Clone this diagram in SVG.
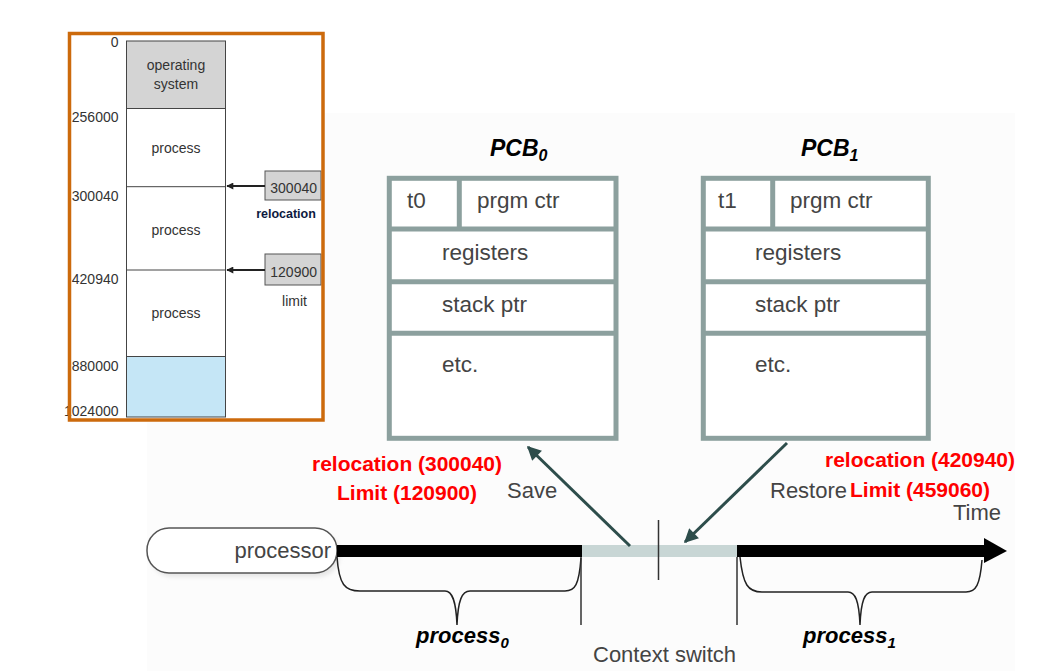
<svg xmlns="http://www.w3.org/2000/svg" width="1058" height="671" viewBox="0 0 1058 671">
<style>
.mem{font-family:"Liberation Sans",Arial,sans-serif;font-size:14px;fill:#333}
.g{font-family:"Liberation Sans",Arial,sans-serif;font-size:22px;fill:#444}
.pc{font-family:"Liberation Sans",Arial,sans-serif;font-size:22.5px;fill:#444}
.red{font-family:"Liberation Sans",Arial,sans-serif;font-size:21px;font-weight:bold;fill:#ff0000}
.bi{font-family:"Liberation Sans",Arial,sans-serif;font-weight:bold;font-style:italic;fill:#000}
.cell{fill:#fff;stroke:#8ca09e;stroke-width:5}
.div{stroke:#8ca09e;stroke-width:5}
.brace{fill:none;stroke:#222;stroke-width:1.5}
.tick{stroke:#333;stroke-width:1.5}
</style>
<defs>
<marker id="ah" viewBox="0 0 10 10" refX="9" refY="5" markerWidth="16" markerHeight="14" markerUnits="userSpaceOnUse" orient="auto">
<path d="M0,0 L10,5 L0,10 z" fill="#2d4d4b"/>
</marker>
<marker id="ak" viewBox="0 0 10 10" refX="9" refY="5" markerWidth="9" markerHeight="7" markerUnits="userSpaceOnUse" orient="auto">
<path d="M0,0 L10,5 L0,10 z" fill="#222"/>
</marker>
<filter id="sh" x="-10%" y="-20%" width="120%" height="160%"><feGaussianBlur stdDeviation="2"/></filter>
</defs>
<rect width="1058" height="671" fill="#fff"/>
<rect x="147" y="113" width="868" height="558" fill="#fcfcfc"/>

<g id="memory">
<rect x="69.5" y="33.5" width="253.5" height="386.5" fill="#fff"/>
<rect x="126.5" y="41" width="99" height="67.5" fill="#d4d4d4" stroke="#444" stroke-width="1"/>
<rect x="126.5" y="108.5" width="99" height="248" fill="#fff" stroke="#444" stroke-width="1"/>
<line x1="126.5" y1="186.7" x2="225.5" y2="186.7" stroke="#444" stroke-width="1"/>
<line x1="126.5" y1="270" x2="225.5" y2="270" stroke="#444" stroke-width="1"/>
<rect x="126.5" y="356.5" width="99" height="60.5" fill="#c5e6f6" stroke="#444" stroke-width="1"/>
<text class="mem" x="176" y="70" text-anchor="middle">operating</text>
<text class="mem" x="176" y="89" text-anchor="middle">system</text>
<text class="mem" x="176" y="153" text-anchor="middle">process</text>
<text class="mem" x="176" y="235" text-anchor="middle">process</text>
<text class="mem" x="176" y="318" text-anchor="middle">process</text>
<text class="mem" x="118.5" y="47" text-anchor="end">0</text>
<text class="mem" x="118.5" y="122" text-anchor="end">256000</text>
<text class="mem" x="118.5" y="201" text-anchor="end">300040</text>
<text class="mem" x="118.5" y="284" text-anchor="end">420940</text>
<text class="mem" x="118.5" y="371" text-anchor="end">880000</text>
<text class="mem" x="118.5" y="416" text-anchor="end">1024000</text>
<rect x="265" y="171" width="56" height="29" fill="#d4d4d4" stroke="#555" stroke-width="1"/>
<text class="mem" x="317" y="193" text-anchor="end">300040</text>
<rect x="265" y="254" width="56" height="31" fill="#d4d4d4" stroke="#555" stroke-width="1"/>
<text class="mem" x="317" y="277" text-anchor="end">120900</text>
<line x1="265" y1="186" x2="227" y2="186" stroke="#222" stroke-width="2" marker-end="url(#ak)"/>
<line x1="265" y1="270" x2="227" y2="270" stroke="#222" stroke-width="2" marker-end="url(#ak)"/>
<text x="286" y="218" text-anchor="middle" font-family="'Liberation Sans',Arial,sans-serif" font-size="12.5" font-weight="bold" fill="#0d1a40">relocation</text>
<text class="mem" x="294.5" y="306" text-anchor="middle">limit</text>
<rect x="69.5" y="33.5" width="253.5" height="386.5" fill="none" stroke="#cc6a0c" stroke-width="3.5"/>
</g>

<g id="pcb0">
<text class="bi" x="490" y="156" font-size="23">PCB<tspan font-size="16" dy="5">0</tspan></text>
<rect class="cell" x="389.3" y="178.3" width="226.7" height="260"/>
<line class="div" x1="389" y1="229" x2="616" y2="229"/>
<line class="div" x1="389" y1="281.7" x2="616" y2="281.7"/>
<line class="div" x1="389" y1="333.3" x2="616" y2="333.3"/>
<line class="div" x1="459.3" y1="178" x2="459.3" y2="229"/>
<text class="pc" x="407" y="207.5">t0</text>
<text class="pc" x="477" y="207.5">prgm ctr</text>
<text class="pc" x="442" y="259.5">registers</text>
<text class="pc" x="442" y="311.5">stack ptr</text>
<text class="pc" x="442" y="371.5">etc.</text>
</g>

<g id="pcb1">
<text class="bi" x="801" y="156" font-size="23">PCB<tspan font-size="16" dy="5">1</tspan></text>
<rect class="cell" x="703.3" y="178.3" width="225" height="260"/>
<line class="div" x1="703" y1="229" x2="928" y2="229"/>
<line class="div" x1="703" y1="281.7" x2="928" y2="281.7"/>
<line class="div" x1="703" y1="333.3" x2="928" y2="333.3"/>
<line class="div" x1="772.7" y1="178" x2="772.7" y2="229"/>
<text class="pc" x="718" y="207.5">t1</text>
<text class="pc" x="790" y="207.5">prgm ctr</text>
<text class="pc" x="755" y="259.5">registers</text>
<text class="pc" x="755" y="311.5">stack ptr</text>
<text class="pc" x="755" y="371.5">etc.</text>
</g>

<g id="processor">
<rect x="150" y="532" width="190" height="45" rx="22" fill="#e6e6e6" filter="url(#sh)"/>
<rect x="147" y="528" width="190" height="45" rx="22" fill="#fff" stroke="#555" stroke-width="1.5"/>
<text class="g" x="331" y="558" text-anchor="end">processor</text>
</g>

<g id="timeline">
<rect x="337" y="545" width="245" height="12" fill="#000"/>
<rect x="582" y="545" width="155" height="12" fill="#c8d6d5"/>
<rect x="737" y="545" width="250" height="12" fill="#000"/>
<polygon points="984,538 1007,551 984,563" fill="#000"/>
<line class="tick" x1="658.5" y1="520" x2="658.5" y2="580" stroke-width="2"/>
</g>

<g id="connectors">
<line x1="630" y1="546" x2="528" y2="447" stroke="#2d4d4b" stroke-width="3" marker-end="url(#ah)"/>
<line x1="787" y1="443" x2="685" y2="542" stroke="#2d4d4b" stroke-width="3" marker-end="url(#ah)"/>
</g>

<g id="brace0">
<path class="brace" d="M337,557 C339,585 345,591 360,591 L445,591 C452,591 456,600 457,625 C458,600 462,591 470,591 L565,591 C575,591 579,585 581,558"/>
<line class="tick" x1="581" y1="557" x2="581" y2="625"/>
<text class="bi" x="416" y="643" font-size="22">process<tspan font-size="15" dy="5">0</tspan></text>
</g>

<g id="brace1">
<path class="brace" d="M740,557 C743,585 748,592 762,592 L848,592 C855,592 859,600 860,625 C861,600 865,592 872,592 L966,592 C976,592 980,585 982,560"/>
<line class="tick" x1="737" y1="557" x2="737" y2="625"/>
<text class="bi" x="803" y="643" font-size="22">process<tspan font-size="15" dy="5">1</tspan></text>
</g>

<g id="labels">
<text class="g" x="593" y="662">Context switch</text>
<text class="g" x="953" y="520">Time</text>
<text class="g" x="507" y="498">Save</text>
<text class="g" x="770" y="498">Restore</text>
<text class="red" x="312" y="471" textLength="190">relocation (300040)</text>
<text class="red" x="337" y="500" textLength="140">Limit (120900)</text>
<text class="red" x="825" y="467" textLength="190">relocation (420940)</text>
<text class="red" x="850" y="497" textLength="140">Limit (459060)</text>
</g>
</svg>
